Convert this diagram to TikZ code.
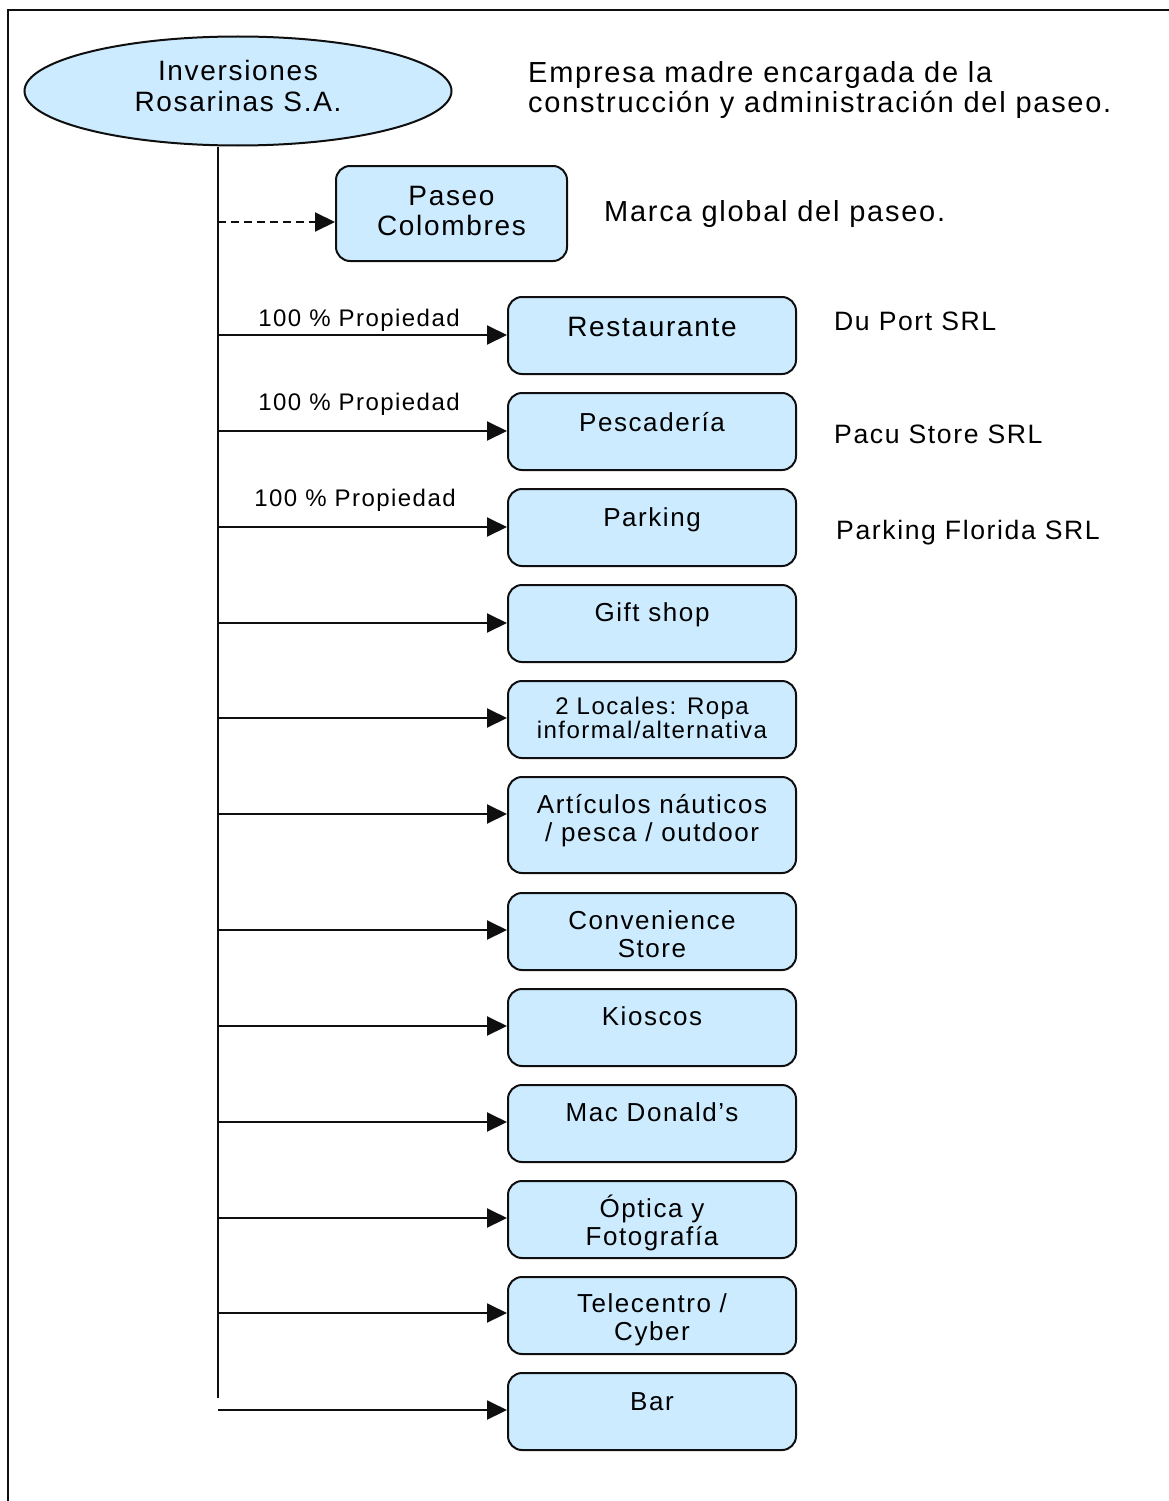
\documentclass[tikz,border=0pt]{standalone}
\usepackage{fontspec}
\setmainfont{Liberation Sans}[LetterSpace=6]
\usetikzlibrary{arrows.meta,shapes.geometric}
\definecolor{boxfill}{RGB}{204,235,255}
\definecolor{edge}{RGB}{15,15,15}

\begin{document}
\begin{tikzpicture}[x=1pt,y=-1pt,
  line/.style={draw=edge,line width=2pt},
  link/.style={line,-{Triangle[length=20pt,width=19pt]}},
  unitbox/.style={line,fill=boxfill,rounded corners=14pt,minimum width=288pt,
    minimum height=77pt,inner sep=0pt,anchor=north west,align=center,
    text height=36pt,text depth=41pt,font=\fontsize{26}{28}\selectfont},
  twolines/.style={text height=64pt,text depth=13pt},
  sidenote/.style={anchor=base west,inner sep=0pt,font=\fontsize{26.6}{30}\selectfont},
  ownlabel/.style={anchor=base,inner sep=0pt,font=\fontsize{24}{26}\selectfont}
]
\useasboundingbox (0,0) rectangle (1169,1501);

% outer frame (runs off the page on the right and bottom)
\begin{scope}
  \clip (0,0) rectangle (1169,1501);
  \draw[line] (8,10) rectangle (1200,1530);
\end{scope}

% parent company
\node[ellipse,line,fill=boxfill,minimum width=427pt,minimum height=109pt,
  inner sep=0pt,align=center,text height=52pt,text depth=10pt,
  font=\fontsize{28}{32}\selectfont]
  (root) at (238,91) {Inversiones\\Rosarinas S.A.};
\node[sidenote,align=left,font=\fontsize{29}{30}\selectfont] (rootnote) at (528,113)
  {Empresa madre encargada de la\\construcción y administración del paseo.};

% brand
\node[unitbox,minimum width=231pt,minimum height=95pt,text height=69pt,text depth=26pt,
  font=\fontsize{28}{30}\selectfont] (brand) at (335,165) {Paseo\\Colombres};
\node[sidenote,font=\fontsize{29}{30}\selectfont] (brandnote) at (604,221) {Marca global del paseo.};

% business units
\node[unitbox,text height=39pt,text depth=38pt,font=\fontsize{28}{30}\selectfont] (u1) at (507,296) {Restaurante};
\node[unitbox,text height=38pt,text depth=39pt] (u2) at (507,392) {Pescadería};
\node[unitbox,text height=37pt,text depth=40pt] (u3) at (507,488) {Parking};
\node[unitbox] (u4) at (507,584) {Gift shop};
\node[unitbox,text height=57pt,text depth=20pt,font=\fontsize{24}{24}\selectfont] (u5) at (507,680) {2 Locales: Ropa\\informal/alternativa};
\node[unitbox,minimum height=96pt,text height=64pt,text depth=32pt] (u6) at (507,776) {Artículos náuticos\\/ pesca / outdoor};
\node[unitbox,twolines] (u7) at (507,892) {Convenience\\Store};
\node[unitbox] (u8) at (507,988) {Kioscos};
\node[unitbox] (u9) at (507,1084) {Mac Donald’s};
\node[unitbox,twolines] (u10) at (507,1180) {Óptica y\\Fotografía};
\node[unitbox,text height=63pt,text depth=14pt] (u11) at (507,1276) {Telecentro /\\Cyber};
\node[unitbox,text height=37pt,text depth=40pt] (u12) at (507,1372) {Bar};

% operating companies
\node[sidenote] (n1) at (834,330) {Du Port SRL};
\node[sidenote] (n2) at (834,443) {Pacu Store SRL};
\node[sidenote] (n3) at (836,539) {Parking Florida SRL};

% trunk and branch points
\coordinate (trunkend) at (218,1398);
\draw[line] (root.south -| trunkend) -- (trunkend);
\coordinate (t0) at (218,222);
\coordinate (t1) at (218,335);
\coordinate (t2) at (218,431);
\coordinate (t3) at (218,527);
\coordinate (t4) at (218,623);
\coordinate (t5) at (218,718);
\coordinate (t6) at (218,814);
\coordinate (t7) at (218,930);
\coordinate (t8) at (218,1026);
\coordinate (t9) at (218,1122);
\coordinate (t10) at (218,1218);
\coordinate (t11) at (218,1313);
\coordinate (t12) at (218,1410);

\draw[link,dash pattern=on 8pt off 5pt] (t0) -- (brand.west |- t0);
\foreach \i in {1,...,12}{
  \draw[link] (t\i) -- (u\i.west |- t\i);
}

% ownership labels
\node[ownlabel] (p1) at (359,326) {100 \% Propiedad};
\node[ownlabel] (p2) at (359,410) {100 \% Propiedad};
\node[ownlabel] (p3) at (355,506) {100 \% Propiedad};
\end{tikzpicture}
\end{document}
